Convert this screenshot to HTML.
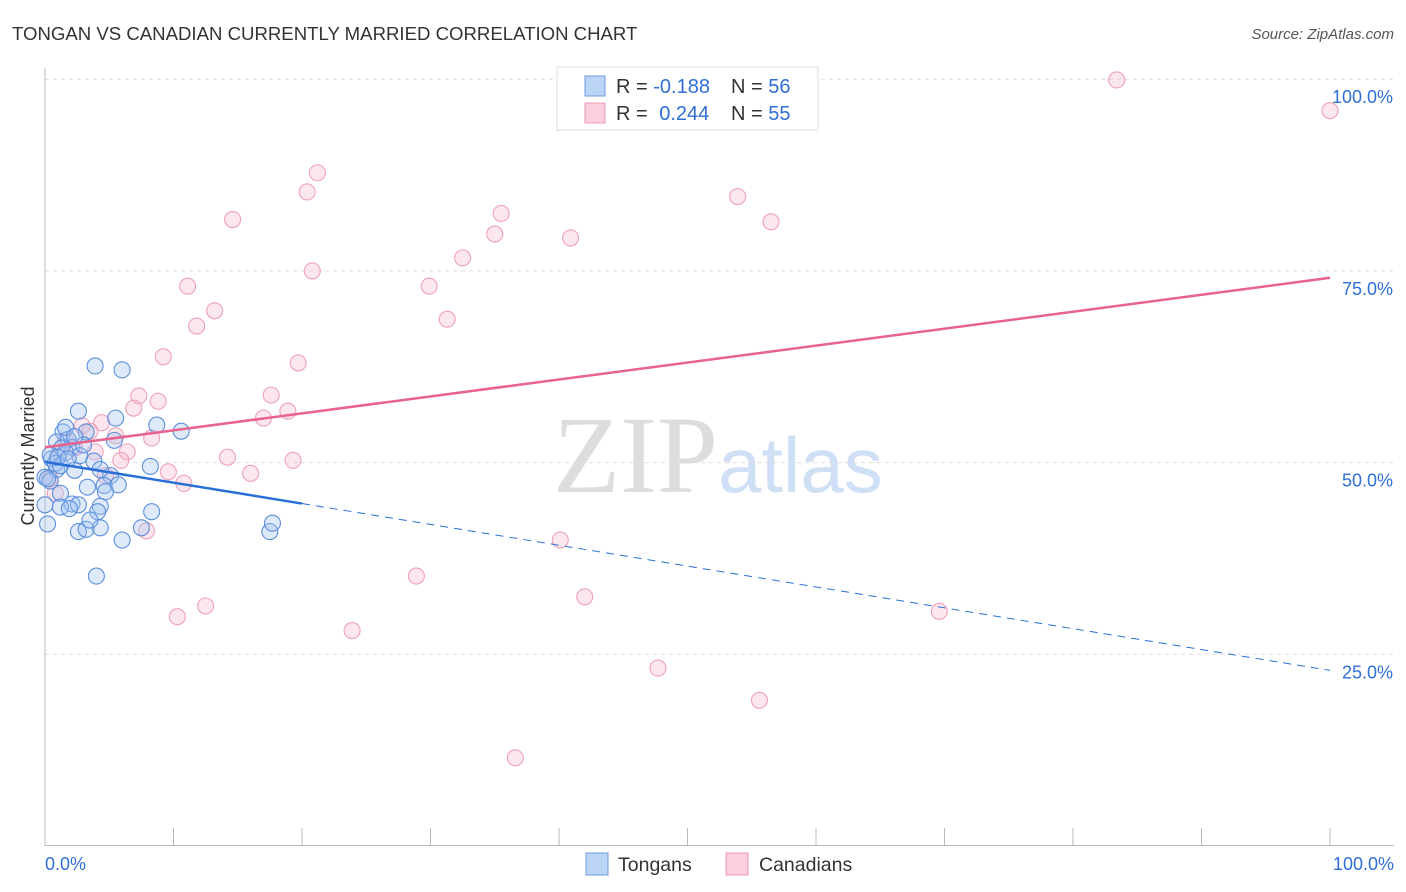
<!DOCTYPE html>
<html><head><meta charset="utf-8"><style>
body{margin:0;background:#fff;font-family:"Liberation Sans",sans-serif}
svg{display:block}
</style></head><body>
<svg id="c" width="1406" height="892">
<text x="12" y="40" font-size="18.6" fill="#333">TONGAN VS CANADIAN CURRENTLY MARRIED CORRELATION CHART</text>
<text x="1394" y="39" font-size="15" fill="#555" font-style="italic" text-anchor="end">Source: ZipAtlas.com</text>
<text x="34" y="456" font-size="18" fill="#333" text-anchor="middle" transform="rotate(-90 34 456)">Currently Married</text>
<text x="553" y="492" font-size="110" fill="#ddd" font-family="Liberation Serif,serif">ZIP</text>
<text x="718" y="492" font-size="78" fill="#cfdff5">atlas</text>
<g id="grid"></g><g id="axes"></g><g id="pts"></g><g id="lines"></g>
<g>
<rect x="557" y="67" width="261" height="63" fill="#fff" stroke="#ddd"/>
<rect x="585" y="76" width="20" height="20" fill="#bcd4f5" stroke="#6b9be0"/>
<rect x="585" y="103" width="20" height="20" fill="#fbcfdc" stroke="#ec9ab5"/>
<text x="616" y="93" font-size="20" fill="#333">R = <tspan fill="#2f6fd6">-0.188</tspan><tspan x="731">N = </tspan><tspan fill="#2f6fd6">56</tspan></text>
<text x="616" y="120" font-size="20" fill="#333">R = <tspan fill="#2f6fd6" dx="6">0.244</tspan><tspan x="731">N = </tspan><tspan fill="#2f6fd6">55</tspan></text>
</g>
<g>
<rect x="586" y="853" width="22" height="22" fill="#bcd4f5" stroke="#6b9be0"/>
<text x="618" y="871" font-size="19.5" fill="#333">Tongans</text>
<rect x="726" y="853" width="22" height="22" fill="#fbcfdc" stroke="#ec9ab5"/>
<text x="759" y="871" font-size="19.5" fill="#333">Canadians</text>
</g>
</svg>
<script>
const blueX=[3.9,6.0,2.6,5.5,8.7,10.6,1.4,3.2,0.9,1.8,2.1,1.3,0.5,3.8,2.7,5.1,8.2,0.9,2.3,0.0,0.4,3.3,4.6,5.7,1.2,2.1,2.6,4.3,1.2,4.1,8.3,0.2,2.6,3.2,4.3,7.5,6.0,17.5,17.7,4.0,0.4,1.6,0.8,3.0,4.7,1.9,3.5,1.6,1.2,0.2,2.3,1.0,1.8,4.3,5.4,0.0];
const blueY=[62.6,62.1,56.7,55.8,54.9,54.1,54.0,54.0,52.7,53.0,52.0,51.9,50.5,50.2,50.9,48.3,49.5,49.1,49.0,48.1,47.6,46.8,47.0,47.1,46.0,44.6,44.5,44.3,44.2,43.6,43.6,42.0,41.0,41.3,41.5,41.5,39.9,41.0,42.1,35.2,51.0,51.3,49.9,52.3,46.2,44.0,42.5,54.6,49.6,47.9,53.4,50.7,50.5,49.1,52.9,44.5];
const pinkX=[83.4,100,21.2,20.4,53.9,14.6,56.5,35.5,35.0,40.9,32.5,20.8,11.1,29.9,13.2,11.8,31.3,9.2,19.7,7.3,8.8,17.6,6.9,18.9,17.0,4.4,2.9,5.5,8.3,1.6,3.9,6.4,5.9,14.2,19.3,9.6,16.0,4.7,10.8,7.9,40.1,28.9,42.0,12.5,10.3,69.6,23.9,47.7,55.6,36.6,0.8,2.3,0.4,1.2,3.5];
const pinkY=[99.9,95.9,87.8,85.3,84.7,81.7,81.4,82.5,79.8,79.3,76.7,75.0,73.0,73.0,69.8,67.8,68.7,63.8,63.0,58.7,58.0,58.8,57.1,56.7,55.8,55.2,54.8,53.5,53.2,52.9,51.4,51.4,50.3,50.7,50.3,48.8,48.6,48.3,47.3,41.1,39.9,35.2,32.5,31.3,29.9,30.6,28.1,23.2,19.0,11.5,46.0,51.9,47.9,51.3,54.1];
const xTicks=["0.0%","100.0%"];
const yTicks=[25,50,75,100];
const yTickLabels=["25.0%","50.0%","75.0%","100.0%"];
const fitBlue=[50.1,-0.272];
const fitPink=[52.0,0.221];
const NS="http://www.w3.org/2000/svg";
const X=v=>45+v*12.85, Y=v=>846-v*7.668;
function mk(p,t,a){const e=document.createElementNS(NS,t);for(const k in a)e.setAttribute(k,a[k]);p.appendChild(e);return e;}
const grid=document.getElementById('grid'),axes=document.getElementById('axes'),pts=document.getElementById('pts'),lines=document.getElementById('lines');
yTicks.forEach((t,i)=>{
 const g=mk(grid,'line',{x1:45,x2:1394,y1:Y(t),y2:Y(t),stroke:'#ddd','stroke-dasharray':'4,4'});
 
 
 const l=mk(axes,'text',{x:1393,y:Y(t)+24,'font-size':18,fill:'#2f6fd6','text-anchor':'end'});
 l.textContent=yTickLabels[i];
 
 
});
const ya=mk(axes,'line',{x1:45,x2:45,y1:68,y2:846,stroke:'#bbb'});


const xa=mk(axes,'line',{x1:45,x2:1394,y1:845.5,y2:845.5,stroke:'#bbb'});


for(let i=0;i<=10;i++){const t=mk(axes,'line',{x1:X(i*10),x2:X(i*10),y1:828,y2:846,stroke:'#bbb'});
 
 }
[[0,'start',45],[100,'end',1394]].forEach((d,i)=>{const l=mk(axes,'text',{x:d[2],y:870,'font-size':18,fill:'#2f6fd6','text-anchor':d[1]});l.textContent=xTicks[i];
 
 });
pinkX.forEach((x,i)=>{const c=mk(pts,'circle',{cx:X(x),cy:Y(pinkY[i]),r:8,fill:'rgba(246,176,198,0.3)',stroke:'#eea1b9','stroke-width':1.1});
 
 });
blueX.forEach((x,i)=>{const c=mk(pts,'circle',{cx:X(x),cy:Y(blueY[i]),r:8,fill:'rgba(160,196,240,0.35)',stroke:'#5b8fdc','stroke-width':1.1});
 
 });
const pl=mk(lines,'line',{x1:X(0),y1:Y(fitPink[0]),x2:X(100),y2:Y(fitPink[0]+100*fitPink[1]),stroke:'#e8638d','stroke-width':2.5});


const bl=mk(lines,'line',{x1:X(0),y1:Y(fitBlue[0]),x2:X(20),y2:Y(fitBlue[0]+20*fitBlue[1]),stroke:'#2a6fd8','stroke-width':2.5});


const bd=mk(lines,'line',{x1:X(20),y1:Y(fitBlue[0]+20*fitBlue[1]),x2:X(100),y2:Y(fitBlue[0]+100*fitBlue[1]),stroke:'#2a6fd8','stroke-width':1,'stroke-dasharray':'8,6'});


</script>
</body></html>
